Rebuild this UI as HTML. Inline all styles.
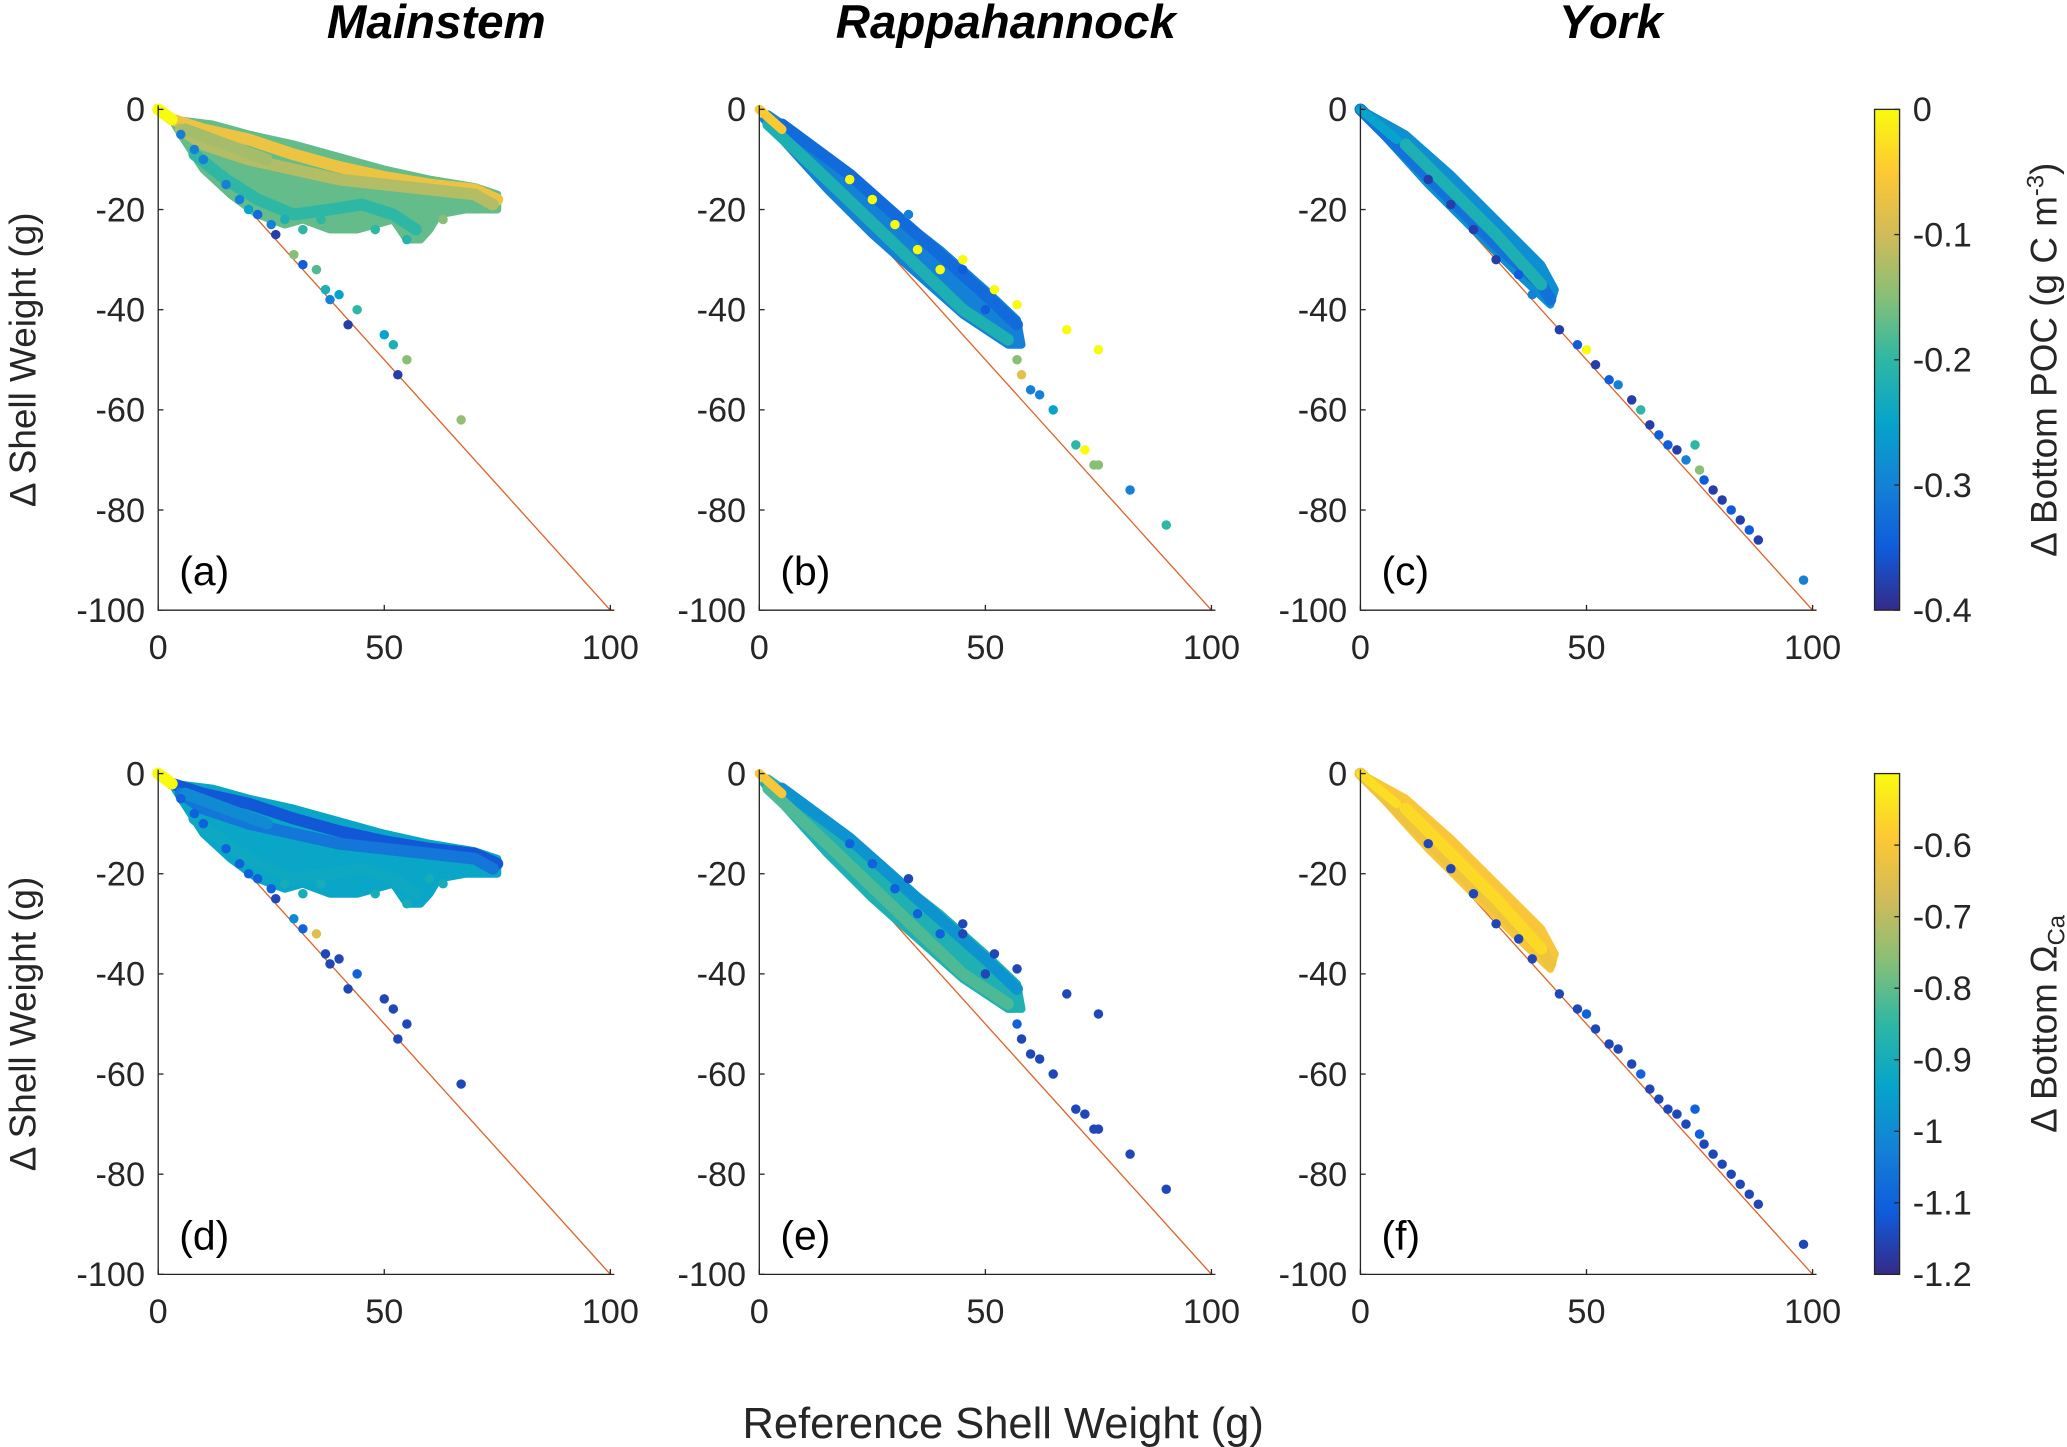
<!DOCTYPE html>
<html><head><meta charset="utf-8"><style>
html,body{margin:0;padding:0;background:#fff;}
svg{display:block;font-family:"Liberation Sans",sans-serif;}
</style></head><body>
<svg id="fig" width="2067" height="1447" viewBox="0 0 1568 1098" preserveAspectRatio="none" xmlns="http://www.w3.org/2000/svg">
<defs>
<linearGradient id="parula" x1="0" y1="1" x2="0" y2="0">
<stop offset="0" stop-color="#352a87"/><stop offset="0.125" stop-color="#0f5cdd"/><stop offset="0.25" stop-color="#1481d6"/><stop offset="0.375" stop-color="#06a4ca"/><stop offset="0.5" stop-color="#2eb7a4"/><stop offset="0.625" stop-color="#87bf77"/><stop offset="0.75" stop-color="#d1bb59"/><stop offset="0.875" stop-color="#fec832"/><stop offset="1" stop-color="#f9fb0e"/>
</linearGradient>
</defs>
<g id="root"></g>
</svg>
<script>
// ---- data ----
const colTitles = ["Mainstem","Rappahannock","York"];
const panelLetters = ["(a)","(b)","(c)","(d)","(e)","(f)"];
const xTicks = [0,50,100];
const yTicks = [0,-20,-40,-60,-80,-100];
const cbTopTicks = [0,-0.1,-0.2,-0.3,-0.4];
const cbTopLabels = ["0","-0.1","-0.2","-0.3","-0.4"];
const cbBotTicks = [-0.6,-0.7,-0.8,-0.9,-1,-1.1,-1.2];
const cbBotLabels = ["-0.6","-0.7","-0.8","-0.9","-1","-1.1","-1.2"];
const cbTopRange = [-0.4,0];
const cbBotRange = [-1.2,-0.5];

// Mainstem: dense cloud outline (x,y) and colors
const aCloudX = [3,12,20,30,40,50,60,70,75,75,68,62,60,58,55,52,48,44,38,32,28,22,16,10,5];
const aCloudY = [-2,-3,-5,-7,-9.5,-12,-14,-15.5,-17,-20,-20,-21,-24,-26,-26,-22,-23,-24,-24,-22,-23,-21,-17,-12,-5];
const aCloudCTop = -0.17;
const aCloudCBot = -0.93;
const aBandX = [[3,10,20,30,40,50,60,70,75],[5,10,20,30,40,50,60,70,74],[8,15,22,30,38,45,52,57],[0,3],[6,12,18,24]];
const aBandY = [[-2,-4,-6,-9,-11.5,-13.5,-15,-16,-18],[-4,-7,-10,-12,-14,-15,-16,-17,-19],[-9,-14,-18,-21,-20,-19,-21,-24],[0,-2],[-4,-6,-8,-10]];
const aBandCTop = [-0.07,-0.12,-0.2,0,-0.13];
const aBandCBot = [-1.12,-1.05,-0.92,-0.5,-1.0];
const aPtX = [30,35,37,40,42,44,50,52,55,53,67,32,38,26,15,10,5,8,18,22,28,32,36,48,55,20,25,60,63];
const aPtY = [-29,-32,-36,-37,-43,-40,-45,-47,-50,-53,-62,-31,-38,-25,-15,-10,-5,-8,-18,-21,-22,-24,-22,-24,-26,-20,-23,-21,-22];
const aPtCTop = [-0.15,-0.18,-0.22,-0.25,-0.38,-0.2,-0.25,-0.22,-0.15,-0.38,-0.14,-0.35,-0.3,-0.38,-0.3,-0.3,-0.3,-0.3,-0.3,-0.33,-0.22,-0.2,-0.2,-0.2,-0.21,-0.25,-0.3,-0.17,-0.15];
const aPtCBot = [-1.0,-0.65,-1.15,-1.15,-1.15,-1.1,-1.15,-1.15,-1.15,-1.15,-1.15,-1.1,-1.15,-1.15,-1.1,-1.1,-1.1,-1.1,-1.1,-1.1,-0.9,-0.9,-0.9,-0.9,-0.9,-1.1,-1.1,-0.9,-0.9];

// Rappahannock
const bCloudX = [2,10,20,30,40,50,57,58,55,45,35,25,15,5,1];
const bCloudY = [-1,-6,-13,-21,-28,-36,-42,-47,-47,-41,-33,-25,-16,-6,-2];
const bCloudCTop = -0.3;
const bCloudCBot = -0.88;
const bBandX = [[5,20,35,50,57],[2,15,30,45,55],[0,5]];
const bBandY = [[-3,-13,-25,-37,-43],[-3,-14,-27,-40,-46],[0,-4]];
const bBandCTop = [-0.33,-0.22,-0.05];
const bBandCBot = [-0.98,-0.82,-0.6];
const bPtX = [30,35,40,45,52,57,68,75,20,25,58,60,62,65,70,72,74,75,82,90,57,45,50,33];
const bPtY = [-23,-28,-32,-30,-36,-39,-44,-48,-14,-18,-53,-56,-57,-60,-67,-68,-71,-71,-76,-83,-50,-32,-40,-21];
const bPtCTop = [0,0,0,0,0,0,0,0,0,0,-0.08,-0.3,-0.3,-0.25,-0.2,0,-0.15,-0.15,-0.3,-0.2,-0.15,-0.35,-0.35,-0.3];
const bPtCBot = [-1.1,-1.1,-1.1,-1.15,-1.15,-1.15,-1.15,-1.15,-1.1,-1.1,-1.15,-1.15,-1.15,-1.15,-1.15,-1.15,-1.15,-1.15,-1.15,-1.15,-1.1,-1.15,-1.15,-1.15];

// York
const cCloudX = [0,10,20,30,40,43,42,35,25,15,5];
const cCloudY = [0,-5,-13,-22,-31,-36,-39,-33,-24,-15,-5];
const cCloudCTop = -0.28;
const cCloudCBot = -0.6;
const cBandX = [[0,10,20,30,40,42],[10,20,30,40],[0,8]];
const cBandY = [[0,-9,-18,-27,-35,-38],[-7,-16,-25,-35],[0,-6]];
const cBandCTop = [-0.32,-0.22,-0.25];
const cBandCBot = [-0.62,-0.56,-0.55];
const cPtX = [44,48,50,52,55,57,60,62,64,66,68,70,72,74,75,76,78,80,82,84,86,88,98,30,20,25,35,15,38];
const cPtY = [-44,-47,-48,-51,-54,-55,-58,-60,-63,-65,-67,-68,-70,-67,-72,-74,-76,-78,-80,-82,-84,-86,-94,-30,-19,-24,-33,-14,-37];
const cPtCTop = [-0.38,-0.35,0,-0.38,-0.35,-0.3,-0.38,-0.2,-0.38,-0.35,-0.35,-0.38,-0.3,-0.2,-0.15,-0.35,-0.38,-0.38,-0.35,-0.38,-0.35,-0.38,-0.3,-0.38,-0.38,-0.38,-0.35,-0.38,-0.3];
const cPtCBot = [-1.15,-1.15,-1.1,-1.15,-1.15,-1.15,-1.15,-1.1,-1.15,-1.15,-1.15,-1.15,-1.15,-1.1,-1.1,-1.15,-1.15,-1.15,-1.15,-1.15,-1.15,-1.15,-1.15,-1.15,-1.15,-1.15,-1.15,-1.15,-1.15];

// ---- rendering ----
const NS = "http://www.w3.org/2000/svg";
const root = document.getElementById("root");
const stops = [[53,42,135],[15,92,221],[20,129,214],[6,164,202],[46,183,164],[135,191,119],[209,187,89],[254,200,50],[249,251,14]];
function parula(t){t=Math.max(0,Math.min(1,t));const f=t*8,i=Math.min(7,Math.floor(f)),r=f-i;const a=stops[i],b=stops[i+1];return `rgb(${a.map((v,k)=>Math.round(v+(b[k]-v)*r)).join(",")})`;}
function mk(tag,attrs,parent){const e=document.createElementNS(NS,tag);for(const k in attrs)e.setAttribute(k,attrs[k]);(parent||root).appendChild(e);return e;}
function txt(s,attrs,parent){const e=mk("text",attrs,parent);e.textContent=s;return e;}

const colX0 = [120,576,1032], W = 343;
const rowY0 = [83,587], H = 380;
const panels = [
 [aCloudX,aCloudY,aCloudCTop,aBandX,aBandY,aBandCTop,aPtX,aPtY,aPtCTop,0,0,cbTopRange],
 [bCloudX,bCloudY,bCloudCTop,bBandX,bBandY,bBandCTop,bPtX,bPtY,bPtCTop,1,0,cbTopRange],
 [cCloudX,cCloudY,cCloudCTop,cBandX,cBandY,cBandCTop,cPtX,cPtY,cPtCTop,2,0,cbTopRange],
 [aCloudX,aCloudY,aCloudCBot,aBandX,aBandY,aBandCBot,aPtX,aPtY,aPtCBot,0,1,cbBotRange],
 [bCloudX,bCloudY,bCloudCBot,bBandX,bBandY,bBandCBot,bPtX,bPtY,bPtCBot,1,1,cbBotRange],
 [cCloudX,cCloudY,cCloudCBot,cBandX,cBandY,cBandCBot,cPtX,cPtY,cPtCBot,2,1,cbBotRange]
];
panels.forEach((p,pi)=>{
 const [cx,cy,cc,bx,by,bc,px,py,pc,col,row,rng]=p;
 const x0=colX0[col], y0=rowY0[row];
 const sx=v=>x0+v/100*W, sy=v=>y0-v/100*H;
 const cn=v=>parula((v-rng[0])/(rng[1]-rng[0]));
 const g=mk("g",{});
 
 
 const dl=mk("line",{x1:sx(0),y1:sy(0),x2:sx(100),y2:sy(-100),stroke:"#e0622a","stroke-width":1},g);
 
 
 const cl=mk("polygon",{points:cx.map((x,k)=>sx(x)+","+sy(cy[k])).join(" "),fill:cn(cc),stroke:cn(cc),"stroke-width":6,"stroke-linejoin":"round"},g);
 
 
 bx.forEach((xs,i)=>{
  const pts=xs.map((x,k)=>sx(x)+","+sy(by[i][k])).join(" ");
  const pl=mk("polyline",{points:pts,fill:"none",stroke:cn(bc[i]),"stroke-width":i===2&&bx.length===3?7:9,"stroke-linecap":"round","stroke-linejoin":"round"},g);
  
  
 });
 px.forEach((x,i)=>{
  const c=mk("circle",{cx:sx(x),cy:sy(py[i]),r:3.6,fill:cn(pc[i])},g);
  
  
 });
 const ax=mk("path",{d:`M${x0},${y0-3}V${y0+H}H${x0+W+3}`,fill:"none",stroke:"#262626","stroke-width":1},g);
 
 
 yTicks.forEach(t=>{
  mk("line",{x1:x0,y1:sy(t),x2:x0+4,y2:sy(t),stroke:"#262626"},g);
  const l=txt(String(t),{x:x0-10,y:sy(t)+9,"text-anchor":"end","font-size":26,fill:"#262626"},g);
  
  
 });
 xTicks.forEach(t=>{
  mk("line",{x1:sx(t),y1:y0+H,x2:sx(t),y2:y0+H-4,stroke:"#262626"},g);
  const l=txt(String(t),{x:sx(t),y:y0+H+37,"text-anchor":"middle","font-size":26,fill:"#262626"},g);
  
  
 });
 const lt=txt(panelLetters[pi],{x:x0+16,y:y0+H-19,"font-size":31,fill:"#000"},g);
 
 
 if(col===0){
  const yl=txt("\u0394 Shell Weight (g)",{x:0,y:0,transform:`translate(27,${y0+H/2}) rotate(-90)`,"text-anchor":"middle","font-size":28,fill:"#262626"},g);
  
  
 }
});
const titleOff=[211,187,190];
colTitles.forEach((t,i)=>{
 const e=txt(t,{x:colX0[i]+titleOff[i],y:29,"text-anchor":"middle","font-size":36,"font-weight":"bold","font-style":"italic",fill:"#000"});
 
 
});
const xl=txt("Reference Shell Weight (g)",{x:761,y:1091,"text-anchor":"middle","font-size":33,fill:"#262626"});



// colorbars
[[0,cbTopTicks,cbTopLabels,cbTopRange],[1,cbBotTicks,cbBotLabels,cbBotRange]].forEach(([row,ticks,labels,rng])=>{
 const y0=rowY0[row], x0=1422, w=19;
 const g=mk("g",{});
 
 
 mk("rect",{x:x0,y:y0,width:w,height:H,fill:"url(#parula)",stroke:"#262626","stroke-width":1},g);
 const cy=v=>y0+H-(v-rng[0])/(rng[1]-rng[0])*H;
 ticks.forEach((t,i)=>{
  mk("line",{x1:x0+w-4,y1:cy(t),x2:x0+w,y2:cy(t),stroke:"#262626"},g);
  const l=txt(labels[i],{x:x0+w+10,y:cy(t)+9,"font-size":26,fill:"#262626"},g);
  
  
 });
});
const t1=mk("text",{x:0,y:0,transform:"translate(1560,273) rotate(-90)","text-anchor":"middle","font-size":28,fill:"#262626"});


t1.innerHTML='\u0394 Bottom POC (g C m<tspan font-size="18" dy="-10">-3</tspan><tspan dy="10">)</tspan>';
const t2=mk("text",{x:0,y:0,transform:"translate(1560,777) rotate(-90)","text-anchor":"middle","font-size":28,fill:"#262626"});


t2.innerHTML='\u0394 Bottom \u03A9<tspan font-size="18" dy="6">Ca</tspan>';
</script>
</body></html>
